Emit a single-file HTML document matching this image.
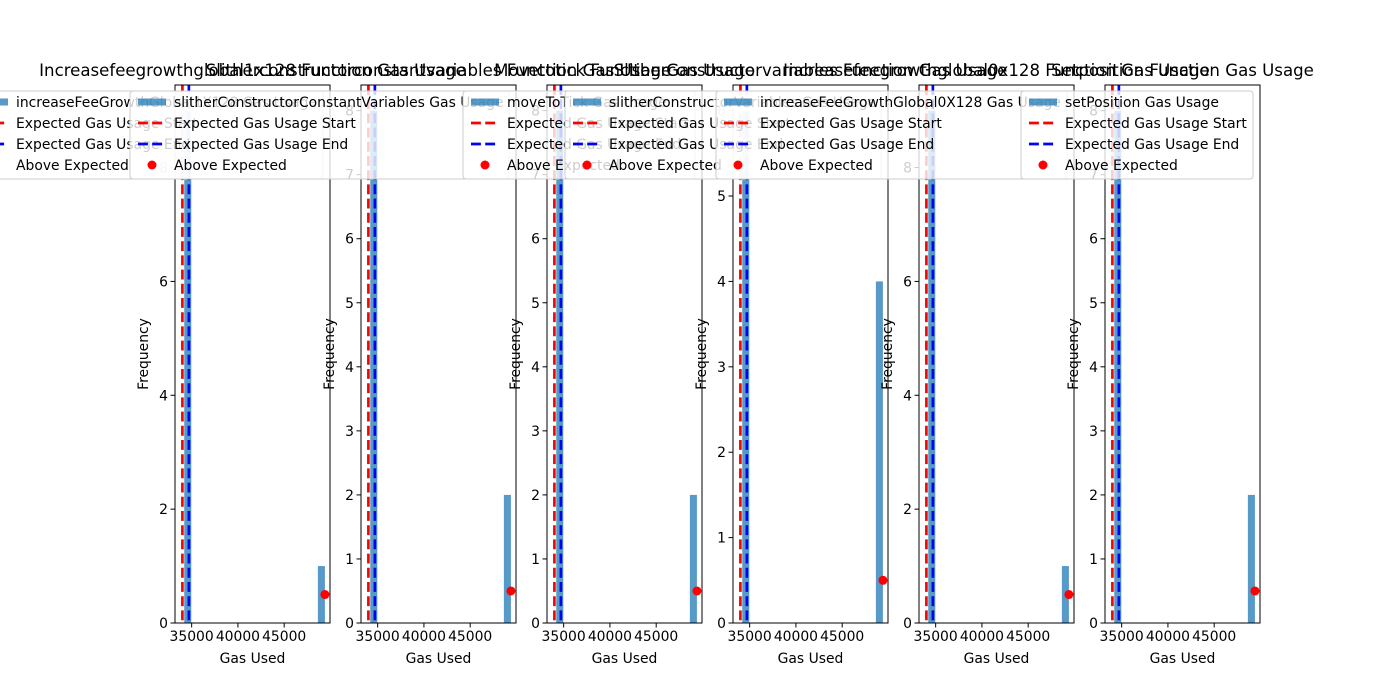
<!DOCTYPE html>
<html><head><meta charset="utf-8">
<style>
html,body{margin:0;padding:0;background:#fff;}
svg{display:block;font-family:"DejaVu Sans","Liberation Sans",sans-serif;}
</style></head>
<body>
<svg id="fig" width="1400" height="700" viewBox="0 0 1400 700" xmlns="http://www.w3.org/2000/svg"></svg>
<script>
// ---- data ----
const titles = ["Increasefeegrowthglobal1x128 Function Gas Usage","Slitherconstructorconstantvariables Function Gas Usage","Movetotick Function Gas Usage","Slitherconstructorvariables Function Gas Usage","Increasefeegrowthglobal0x128 Function Gas Usage","Setposition Function Gas Usage"];
const seriesLabels = ["increaseFeeGrowthGlobal1X128 Gas Usage","slitherConstructorConstantVariables Gas Usage","moveToTick Gas Usage","slitherConstructorVariables Gas Usage","increaseFeeGrowthGlobal0X128 Gas Usage","setPosition Gas Usage"];
const lowBinCounts = [9, 8, 8, 6, 9, 8];
const highBinCounts = [1, 2, 2, 4, 1, 2];
const binStart = 34200;
const binWidth = 760;
const binCount = 20;
const expectedStart = 34000;
const expectedEnd = 34700;
const aboveExpectedX = [49400, 49400, 49400, 49400, 49400, 49400];
const aboveExpectedY = [0.5, 0.5, 0.5, 0.5, 0.5, 0.5];
const xTicks = [35000, 40000, 45000];
const xMin = 33200, xMax = 49950;

const NS = "http://www.w3.org/2000/svg";
const svg = document.getElementById("fig");
function mk(tag, attrs, parent){
  const e = document.createElementNS(NS, tag);
  for (const k in attrs) e.setAttribute(k, attrs[k]);
  (parent||svg).appendChild(e);
  return e;
}
const axLefts = [175, 361, 547, 733, 919, 1105];
const legendWidths = [351, 379, 232, 316, 351, 232];
const axW = 155, axTop = 85, axBot = 623;
const DASH = "9.9,4.3", LW = 2.67, FS = "13.9px";

for (let i = 0; i < 6; i++) {
  const L = axLefts[i], R = L + axW;
  const counts = new Array(binCount).fill(0);
  counts[0] = lowBinCounts[i];
  counts[binCount - 1] = highBinCounts[i];
  const maxC = Math.max(...counts);
  const yMax = maxC * 1.05;
  const sx = v => L + (v - xMin) / (xMax - xMin) * axW;
  const sy = v => axBot - v / yMax * (axBot - axTop);
  const g = mk("g", {});
  
  
  const bg = mk("rect", {x:L, y:axTop, width:axW, height:axBot-axTop, fill:"#fff"}, g);
  
  
  for (let b = 0; b < binCount; b++) {
    if (!counts[b]) continue;
    const x0 = sx(binStart + b*binWidth), x1 = sx(binStart + (b+1)*binWidth);
    const r = mk("rect", {x:x0, y:sy(counts[b]), width:x1-x0, height:axBot-sy(counts[b]), fill:"#1f77b4", "fill-opacity":0.75}, g);
    
    
  }
  const l1 = mk("line", {x1:sx(expectedStart), x2:sx(expectedStart), y1:axTop, y2:axBot, stroke:"red", "stroke-width":LW, "stroke-dasharray":DASH}, g);
  
  
  const l2 = mk("line", {x1:sx(expectedEnd), x2:sx(expectedEnd), y1:axTop, y2:axBot, stroke:"blue", "stroke-width":LW, "stroke-dasharray":DASH}, g);
  
  
  const dot = mk("circle", {cx:sx(aboveExpectedX[i]), cy:sy(aboveExpectedY[i]), r:4.5, fill:"red"}, g);
  
  
  const sp = mk("rect", {x:L, y:axTop, width:axW, height:axBot-axTop, fill:"none", stroke:"#000", "stroke-width":1}, g);
  
  
  xTicks.forEach(t => {
    const x = sx(t);
    mk("line", {x1:x, x2:x, y1:axBot, y2:axBot+4.5, stroke:"#000"}, g);
    const tx = mk("text", {x:x, y:axBot+18, "text-anchor":"middle", "font-size":FS}, g);
    tx.textContent = t;
    
    
  });
  const step = yMax > 9 ? 2 : 1;
  for (let v = 0; v <= yMax; v += step) {
    const y = sy(v);
    mk("line", {x1:L-4.5, x2:L, y1:y, y2:y, stroke:"#000"}, g);
    const ty = mk("text", {x:L-7, y:y+5, "text-anchor":"end", "font-size":FS}, g);
    ty.textContent = v;
    
    
  }
  const xl = mk("text", {x:L+axW/2, y:663, "text-anchor":"middle", "font-size":FS}, g);
  xl.textContent = "Gas Used";
  
  
  const yl = mk("text", {x:0, y:0, "text-anchor":"middle", "font-size":FS, transform:`translate(${L-27},${(axTop+axBot)/2}) rotate(-90)`}, g);
  yl.textContent = "Frequency";
  
  
  const ti = mk("text", {x:L+axW/2, y:76, "text-anchor":"middle", "font-size":"16.6px"}, g);
  ti.textContent = titles[i];
  
  
  const lg = mk("g", {}, g);
  
  
  const width = legendWidths[i];
  const left = R - 7 - width;
  mk("rect", {x:left, y:91, width:width, height:88, rx:3, fill:"#fff", "fill-opacity":0.8, stroke:"#cccccc", "stroke-width":1}, lg);
  const labels = [seriesLabels[i], "Expected Gas Usage Start", "Expected Gas Usage End", "Above Expected"];
  labels.forEach((s, k) => {
    const t = mk("text", {x:left+44, y:102 + k*21 + 5, "font-size":FS}, lg);
    t.textContent = s;
    
    
  });
  mk("rect", {x:left+8, y:98.5, width:28, height:7, fill:"#1f77b4", "fill-opacity":0.75}, lg);
  mk("line", {x1:left+8, x2:left+36, y1:123, y2:123, stroke:"red", "stroke-width":LW, "stroke-dasharray":DASH}, lg);
  mk("line", {x1:left+8, x2:left+36, y1:144, y2:144, stroke:"blue", "stroke-width":LW, "stroke-dasharray":DASH}, lg);
  mk("circle", {cx:left+22, cy:165, r:4.5, fill:"red"}, lg);
}
</script>
</body></html>
